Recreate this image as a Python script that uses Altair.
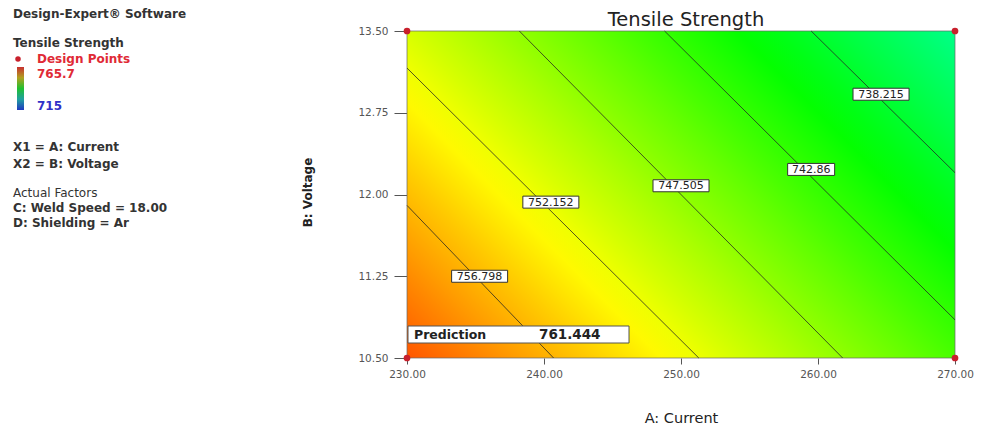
import altair as alt
import pandas as pd

# ---------------- data ----------------
current_ticks = [230, 240, 250, 260, 270]
voltage_ticks = [10.5, 11.25, 12.0, 12.75, 13.5]

# contour levels, their end points and label positions (A: Current, B: Voltage)
contour_labels = ["738.215", "742.86", "747.505", "752.152", "756.798"]
contour_a_start = [259.5, 248.8, 238.2, 230.0, 230.0]
contour_b_start = [13.5, 13.5, 13.5, 13.16, 11.90]
contour_a_end = [270.0, 270.0, 261.8, 251.3, 240.7]
contour_b_end = [12.20, 10.85, 10.5, 10.5, 10.5]
label_a = [264.6, 259.5, 250.0, 240.5, 235.3]
label_b = [12.92, 12.23, 12.08, 11.93, 11.25]

# design points (corners)
design_a = [230, 270, 230, 270]
design_b = [10.5, 10.5, 13.5, 13.5]

# predicted response at the four corners (bottom-left is the flagged prediction)
corner_bl = 761.444   # A=230, B=10.5
corner_br = 743.96    # A=270, B=10.5
corner_tl = 751.08    # A=230, B=13.5
corner_tr = 733.60    # A=270, B=13.5

prediction_a = [230]
prediction_b = [10.5]
prediction_value = [761.444]

legend_max = 765.7
legend_min = 715.0

# ---------------- colour map (Design-Expert style) ----------------
cmap = [(0.0, (0, 0, 255)), (0.25, (0, 255, 255)), (0.5, (0, 255, 0)),
        (0.75, (255, 255, 0)), (1.0, (255, 0, 0))]


def cmap_color(val):
    n = (val - legend_min) / (legend_max - legend_min)
    n = min(max(n, 0.0), 1.0)
    for (p0, c0), (p1, c1) in zip(cmap[:-1], cmap[1:]):
        if n <= p1:
            f = (n - p0) / (p1 - p0)
            rgb = [round(a + (b - a) * f) for a, b in zip(c0, c1)]
            return "#%02x%02x%02x" % tuple(rgb)
    return "#ff0000"


# linear gradient across the plot (bbox units, v downward)
gu = corner_br - corner_bl
gv = corner_bl - corner_tl
dx, dy = -gu, -gv
s = (dx * 1 + dy * (-1)) / (dx * dx + dy * dy)
gx1, gy1 = 0.0, 1.0
gx2, gy2 = gx1 + s * dx, gy1 + s * dy
fmax, fmin = corner_bl, corner_tr
stops = []
nstop = 24
for i in range(nstop + 1):
    t = i / nstop
    stops.append(alt.GradientStop(offset=t, color=cmap_color(fmax - t * (fmax - fmin))))
surface_fill = alt.LinearGradient(gradient="linear", stops=stops,
                                  x1=gx1, y1=gy1, x2=gx2, y2=gy2)

FONT = "DejaVu Sans"

xscale = alt.Scale(domain=[current_ticks[0], current_ticks[-1]], nice=False, zero=False)
yscale = alt.Scale(domain=[voltage_ticks[0], voltage_ticks[-1]], nice=False, zero=False)

xaxis = alt.Axis(values=current_ticks, format=".2f", title="A: Current",
                 titleFont=FONT, titleFontSize=14.5, titleFontWeight="normal",
                 titleColor="#222", titleY=60, titleBaseline="middle",
                 labelFont=FONT, labelFontSize=10.5, labelColor="#555",
                 tickSize=6, tickColor="#555", labelPadding=5,
                 domain=False, grid=False, labelFlush=False)
yaxis = alt.Axis(values=voltage_ticks, format=".2f", title="B: Voltage",
                 titleFont=FONT, titleFontSize=12, titleFontWeight="bold",
                 titleColor="#222", titleAngle=270, titleX=-100, titleY=161,
                 titleBaseline="middle", titleAlign="center",
                 labelFont=FONT, labelFontSize=10.5, labelColor="#555",
                 tickSize=13, tickColor="#555", labelPadding=6,
                 domain=False, grid=False, labelFlush=False)

# ---------------- layers ----------------
surface_df = pd.DataFrame({"a0": [current_ticks[0]], "a1": [current_ticks[-1]],
                           "b0": [voltage_ticks[0]], "b1": [voltage_ticks[-1]]})
surface = alt.Chart(surface_df).mark_rect(
    fill=surface_fill, stroke="#666", strokeWidth=1, strokeOpacity=0.7
).encode(
    x=alt.X("a0:Q", scale=xscale, axis=xaxis),
    x2="a1:Q",
    y=alt.Y("b0:Q", scale=yscale, axis=yaxis),
    y2="b1:Q",
)

contour_df = pd.DataFrame({"label": contour_labels,
                           "a0": contour_a_start, "b0": contour_b_start,
                           "a1": contour_a_end, "b1": contour_b_end,
                           "la": label_a, "lb": label_b})
lines = alt.Chart(contour_df).mark_rule(color="#222", strokeWidth=0.9, opacity=0.85).encode(
    x=alt.X("a0:Q", scale=xscale), y=alt.Y("b0:Q", scale=yscale),
    x2="a1:Q", y2="b1:Q",
)

box7 = alt.Chart(contour_df).transform_filter("length(datum.label) == 7").mark_point(
    shape="M-1,-0.2143H1V0.2143H-1Z", size=3136, filled=True,
    fill="white", stroke="#333", strokeWidth=1, opacity=1
).encode(x=alt.X("la:Q", scale=xscale), y=alt.Y("lb:Q", scale=yscale))
box6 = alt.Chart(contour_df).transform_filter("length(datum.label) == 6").mark_point(
    shape="M-1,-0.2553H1V0.2553H-1Z", size=2209, filled=True,
    fill="white", stroke="#333", strokeWidth=1, opacity=1
).encode(x=alt.X("la:Q", scale=xscale), y=alt.Y("lb:Q", scale=yscale))
label_text = alt.Chart(contour_df).mark_text(
    font=FONT, fontSize=11, color="#222", align="center", baseline="middle", dy=0.5
).encode(x=alt.X("la:Q", scale=xscale), y=alt.Y("lb:Q", scale=yscale), text="label:N")

pred_df = pd.DataFrame({"a": prediction_a, "b": prediction_b,
                        "value": prediction_value, "name": ["Prediction"]})
pred_box = alt.Chart(pred_df).mark_rect(
    fill="white", stroke="#555", strokeWidth=1,
    xOffset=1, x2Offset=222, yOffset=-32, y2Offset=-15
).encode(x=alt.X("a:Q", scale=xscale), x2="a:Q",
         y=alt.Y("b:Q", scale=yscale), y2="b:Q")
pred_name = alt.Chart(pred_df).mark_text(
    font=FONT, fontSize=12.5, fontWeight="bold", color="#222",
    align="left", baseline="middle", dx=7, dy=-23.5
).encode(x=alt.X("a:Q", scale=xscale), y=alt.Y("b:Q", scale=yscale), text="name:N")
pred_val = alt.Chart(pred_df).mark_text(
    font=FONT, fontSize=13.5, fontWeight="bold", color="#222",
    align="left", baseline="middle", dx=132, dy=-23.5
).encode(x=alt.X("a:Q", scale=xscale), y=alt.Y("b:Q", scale=yscale),
         text=alt.Text("value:Q", format=".3f"))

design_df = pd.DataFrame({"a": design_a, "b": design_b})
design = alt.Chart(design_df).mark_point(
    shape="circle", filled=True, size=45, color="#c8202c", opacity=1
).encode(x=alt.X("a:Q", scale=xscale), y=alt.Y("b:Q", scale=yscale))

# ---------------- annotations (title and Design-Expert side panel) ----------------
one = alt.Data(values=[{}])


def note(text, x, y, color="#333", size=12, weight="bold", align="left"):
    return alt.Chart(one).mark_text(
        text=text, font=FONT, fontSize=size, fontWeight=weight, color=color,
        align=align, baseline="middle"
    ).encode(x=alt.value(x), y=alt.value(y))


title = note("Tensile Strength", 279, -11, color="#222", size=19.5, weight="normal", align="center")

panel = [
    note("Design-Expert\u00ae Software", -394, -17),
    note("Tensile Strength", -394, 12),
    note("Design Points", -370, 28, color="#e02a36"),
    note(f"{legend_max:.1f}", -370, 43, color="#e02a36"),
    note(f"{legend_min:.0f}", -370, 75, color="#3030c8"),
    note("X1 = A: Current", -394, 116),
    note("X2 = B: Voltage", -394, 133),
    note("Actual Factors", -394, 162, weight="normal"),
    note("C: Weld Speed = 18.00", -394, 177),
    note("D: Shielding = Ar", -394, 192),
]
panel_dot = alt.Chart(one).mark_point(
    shape="circle", filled=True, size=30, color="#c8202c", opacity=1
).encode(x=alt.value(-389), y=alt.value(28))
bar_fill = alt.LinearGradient(gradient="linear", x1=0, y1=0, x2=0, y2=1, stops=[
    alt.GradientStop(offset=0.0, color="#c83030"),
    alt.GradientStop(offset=0.25, color="#b0a020"),
    alt.GradientStop(offset=0.5, color="#20c030"),
    alt.GradientStop(offset=0.75, color="#20a0a0"),
    alt.GradientStop(offset=1.0, color="#2038c0"),
])
panel_bar = alt.Chart(one).mark_rect(fill=bar_fill).encode(
    x=alt.value(-390), x2=alt.value(-383), y=alt.value(36), y2=alt.value(79))

chart = alt.layer(
    surface, lines, box7, box6, label_text, pred_box, pred_name, pred_val, design,
    title, panel_dot, panel_bar, *panel
).properties(
    width=548, height=327,
    autosize=alt.AutoSizeParams(type="none"),
    padding={"left": 399, "top": 23, "right": 19, "bottom": 67},
    background="white",
).configure_view(stroke=None)

chart.save("out.html", embed_options={"renderer": "svg", "actions": False})
